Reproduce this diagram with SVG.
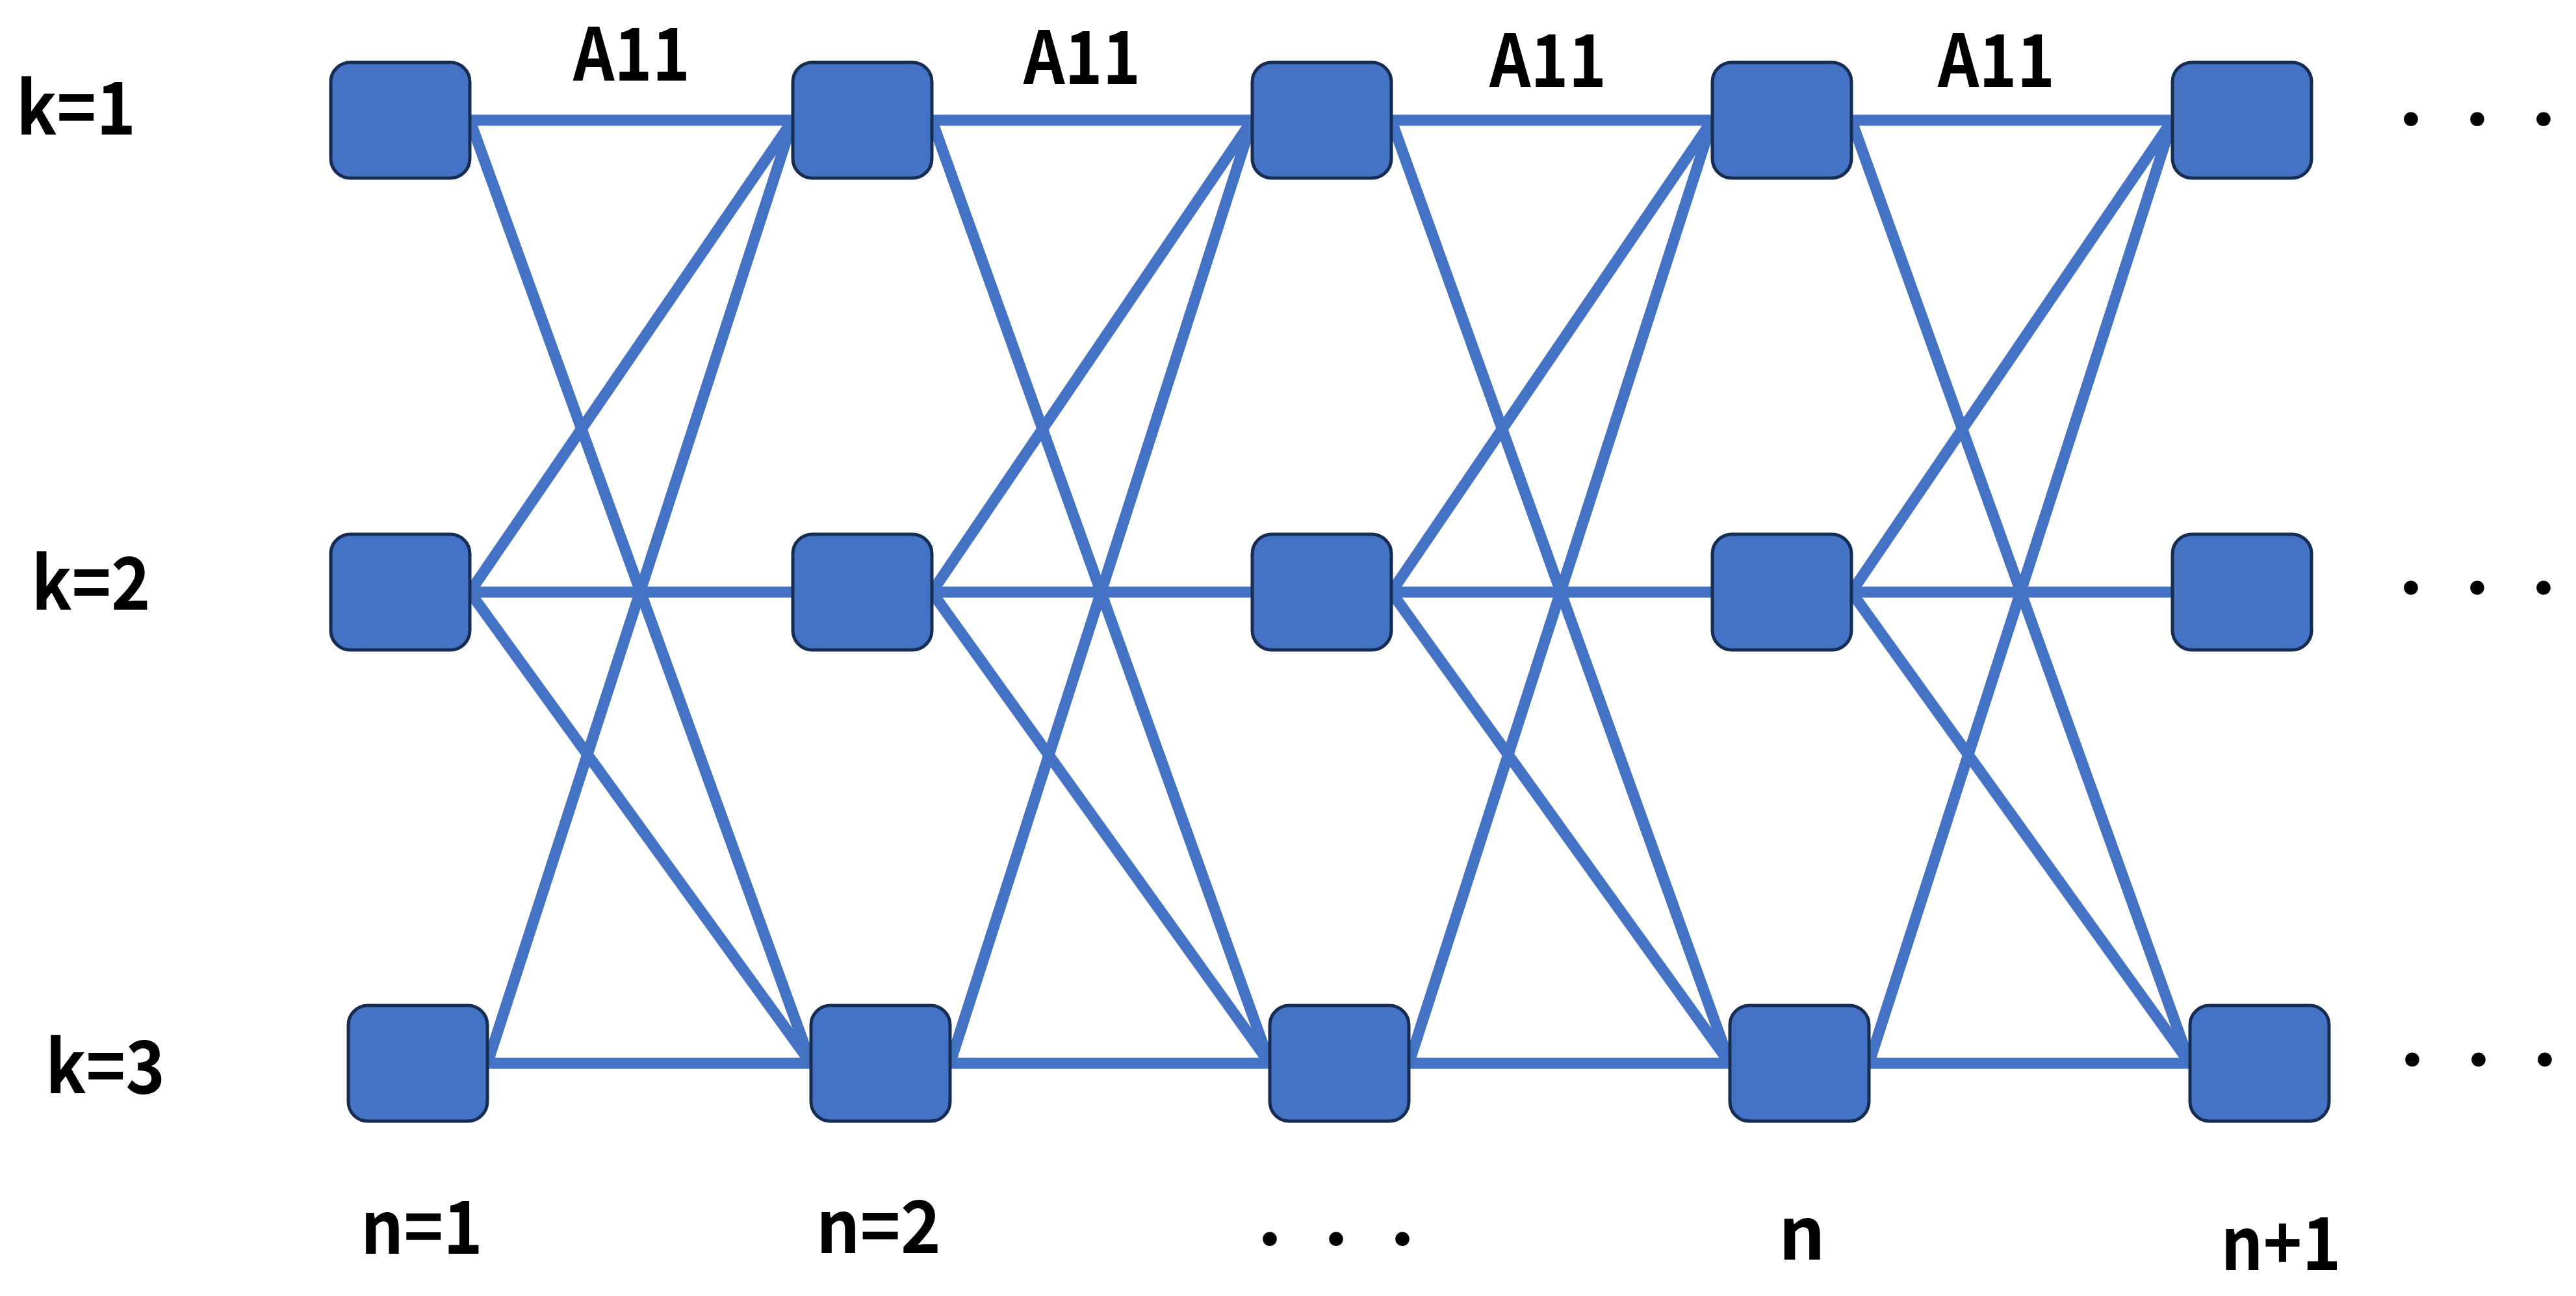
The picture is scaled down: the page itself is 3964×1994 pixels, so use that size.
<svg xmlns="http://www.w3.org/2000/svg" width="3964" height="1994" viewBox="0 0 3964 1994">
<style>
.node{fill:#4472C4;stroke:#172C51;stroke-width:5}
.edge{stroke:#4472C4;stroke-width:17;fill:none}
.lbl{font-family:"Noto Sans CJK JP","Noto Sans",sans-serif;font-weight:bold;font-size:112px;fill:#000;text-anchor:middle}
.dots{font-family:"Noto Sans CJK JP",sans-serif;font-size:102px;fill:#000}
</style>
<rect width="3964" height="1994" fill="#fff"/>
<g id="connectors">
<line class="edge" x1="723" y1="185" x2="1220" y2="185"/>
<line class="edge" x1="723" y1="185" x2="1248" y2="1636"/>
<line class="edge" x1="723" y1="911" x2="1220" y2="185"/>
<line class="edge" x1="723" y1="911" x2="1220" y2="911"/>
<line class="edge" x1="723" y1="911" x2="1248" y2="1636"/>
<line class="edge" x1="750" y1="1636" x2="1220" y2="185"/>
<line class="edge" x1="750" y1="1636" x2="1248" y2="1636"/>
<line class="edge" x1="1434" y1="185" x2="1927" y2="185"/>
<line class="edge" x1="1434" y1="185" x2="1954" y2="1636"/>
<line class="edge" x1="1434" y1="911" x2="1927" y2="185"/>
<line class="edge" x1="1434" y1="911" x2="1927" y2="911"/>
<line class="edge" x1="1434" y1="911" x2="1954" y2="1636"/>
<line class="edge" x1="1462" y1="1636" x2="1927" y2="185"/>
<line class="edge" x1="1462" y1="1636" x2="1954" y2="1636"/>
<line class="edge" x1="2141" y1="185" x2="2635" y2="185"/>
<line class="edge" x1="2141" y1="185" x2="2662" y2="1636"/>
<line class="edge" x1="2141" y1="911" x2="2635" y2="185"/>
<line class="edge" x1="2141" y1="911" x2="2635" y2="911"/>
<line class="edge" x1="2141" y1="911" x2="2662" y2="1636"/>
<line class="edge" x1="2168" y1="1636" x2="2635" y2="185"/>
<line class="edge" x1="2168" y1="1636" x2="2662" y2="1636"/>
<line class="edge" x1="2849" y1="185" x2="3343" y2="185"/>
<line class="edge" x1="2849" y1="185" x2="3370" y2="1636"/>
<line class="edge" x1="2849" y1="911" x2="3343" y2="185"/>
<line class="edge" x1="2849" y1="911" x2="3343" y2="911"/>
<line class="edge" x1="2849" y1="911" x2="3370" y2="1636"/>
<line class="edge" x1="2876" y1="1636" x2="3343" y2="185"/>
<line class="edge" x1="2876" y1="1636" x2="3370" y2="1636"/>
</g>
<g id="n1k1"><rect class="node" x="509" y="96" width="214" height="178" rx="30"/></g>
<g id="n1k2"><rect class="node" x="509" y="822" width="214" height="178" rx="30"/></g>
<g id="n1k3"><rect class="node" x="536" y="1547" width="214" height="178" rx="30"/></g>
<g id="n2k1"><rect class="node" x="1220" y="96" width="214" height="178" rx="30"/></g>
<g id="n2k2"><rect class="node" x="1220" y="822" width="214" height="178" rx="30"/></g>
<g id="n2k3"><rect class="node" x="1248" y="1547" width="214" height="178" rx="30"/></g>
<g id="n3k1"><rect class="node" x="1927" y="96" width="214" height="178" rx="30"/></g>
<g id="n3k2"><rect class="node" x="1927" y="822" width="214" height="178" rx="30"/></g>
<g id="n3k3"><rect class="node" x="1954" y="1547" width="214" height="178" rx="30"/></g>
<g id="n4k1"><rect class="node" x="2635" y="96" width="214" height="178" rx="30"/></g>
<g id="n4k2"><rect class="node" x="2635" y="822" width="214" height="178" rx="30"/></g>
<g id="n4k3"><rect class="node" x="2662" y="1547" width="214" height="178" rx="30"/></g>
<g id="n5k1"><rect class="node" x="3343" y="96" width="214" height="178" rx="30"/></g>
<g id="n5k2"><rect class="node" x="3343" y="822" width="214" height="178" rx="30"/></g>
<g id="n5k3"><rect class="node" x="3370" y="1547" width="214" height="178" rx="30"/></g>
<g id="labels">
<text class="lbl" x="972" y="124" textLength="180" lengthAdjust="spacingAndGlyphs">A11</text>
<text class="lbl" x="1665" y="129" textLength="180" lengthAdjust="spacingAndGlyphs">A11</text>
<text class="lbl" x="2382" y="134" textLength="180" lengthAdjust="spacingAndGlyphs">A11</text>
<text class="lbl" x="3072" y="134" textLength="180" lengthAdjust="spacingAndGlyphs">A11</text>
<text class="lbl" x="117" y="207" textLength="184" lengthAdjust="spacingAndGlyphs">k=1</text>
<text class="lbl" x="140" y="938" textLength="183" lengthAdjust="spacingAndGlyphs">k=2</text>
<text class="lbl" x="162" y="1682" textLength="184" lengthAdjust="spacingAndGlyphs">k=3</text>
<text class="lbl" x="649" y="1929" textLength="188" lengthAdjust="spacingAndGlyphs">n=1</text>
<text class="lbl" x="1352" y="1928" textLength="192" lengthAdjust="spacingAndGlyphs">n=2</text>
<text class="lbl" x="2773" y="1938">n</text>
<text class="lbl" x="3510" y="1954" textLength="185" lengthAdjust="spacingAndGlyphs">n+1</text>
<text class="dots" x="3659" y="222">・・・</text>
<text class="dots" x="3659" y="943">・・・</text>
<text class="dots" x="3661" y="1669">・・・</text>
<text class="dots" x="1903" y="1945">・・・</text>
</g>
</svg>
